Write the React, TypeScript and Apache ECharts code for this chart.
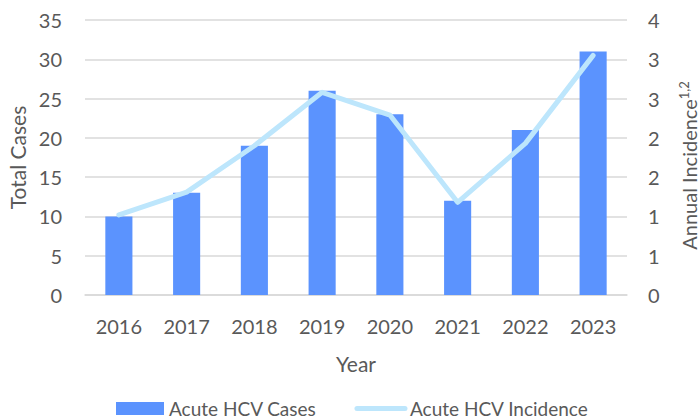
import React, { useEffect, useRef } from "react";
import * as echarts from "echarts";

const years = ["2016", "2017", "2018", "2019", "2020", "2021", "2022", "2023"];
const cases = [10, 13, 19, 26, 23, 12, 21, 31];
const incidence = [1.02, 1.31, 1.9, 2.58, 2.29, 1.18, 1.93, 3.05];

const FONT = "Lato, 'Open Sans', sans-serif";
const TXT = "#595959";
const LINE = "#BDE6FC";

export default function App() {
  const ref = useRef<HTMLDivElement>(null);
  useEffect(() => {
    const chart = echarts.init(ref.current!, null, { renderer: "svg" });
    chart.setOption({
      animation: false,
      textStyle: { fontFamily: FONT },
      grid: { left: 85, right: 72, top: 20, bottom: 125, outerBoundsMode: "none", containLabel: false },
      legend: {
        top: 394,
        left: 111,
        itemWidth: 48,
        itemHeight: 13,
        itemGap: 38,
        textStyle: { fontSize: 19, color: TXT, fontFamily: FONT },
        data: [
          { name: "Acute HCV Cases", icon: "rect" },
          {
            name: "Acute HCV Incidence",
            itemStyle: { opacity: 0, color: "transparent", borderWidth: 0 },
            lineStyle: { width: 5, color: LINE, cap: "round" },
          },
        ],
      },
      xAxis: {
        type: "category",
        data: years,
        name: "Year",
        nameLocation: "middle",
        nameGap: 58,
        nameTextStyle: { fontSize: 21, color: TXT, fontFamily: FONT },
        axisTick: { show: false },
        axisLine: { lineStyle: { color: "#d9d9d9", width: 1.5 } },
        axisLabel: { fontSize: 20, color: TXT, margin: 21, fontFamily: FONT },
      },
      yAxis: [
        {
          type: "value",
          min: 0,
          max: 35,
          interval: 5,
          name: "Total Cases",
          nameLocation: "middle",
          nameGap: 56,
          nameTextStyle: { fontSize: 21, color: TXT, fontFamily: FONT },
          axisLabel: { fontSize: 20, color: TXT, margin: 23, fontFamily: FONT },
          splitLine: { lineStyle: { color: "#d9d9d9", width: 1.5 } },
        },
        {
          type: "value",
          min: 0,
          max: 3.5,
          interval: 0.5,
          position: "right",
          name: "Annual Incidence{sup|1,2}",
          nameLocation: "middle",
          nameGap: 50,
          nameRotate: 90,
          nameTextStyle: {
            fontSize: 20,
            color: TXT,
            fontFamily: FONT,
            padding: [0, 16, 0, 0],
            rich: {
              sup: { fontSize: 13, color: TXT, fontFamily: FONT, verticalAlign: "top", padding: [0, 0, 10, 0] },
            },
          },
          axisLabel: {
            fontSize: 20,
            color: TXT,
            margin: 21,
            fontFamily: FONT,
            formatter: (v: number) => String(Math.round(v)),
          },
          splitLine: { show: false },
        },
      ],
      series: [
        {
          name: "Acute HCV Cases",
          type: "bar",
          data: cases,
          barWidth: "40%",
          itemStyle: { color: "#5B93FE" },
          yAxisIndex: 0,
        },
        {
          name: "Acute HCV Incidence",
          type: "line",
          data: incidence,
          yAxisIndex: 1,
          symbol: "none",
          lineStyle: { color: LINE, width: 5, cap: "round", join: "round" },
          itemStyle: { color: LINE },
        },
      ],
    });
    return () => chart.dispose();
  }, []);
  return <div ref={ref} style={{ width: 699, height: 420, position: "absolute", left: 0, top: 0 }} />;
}
